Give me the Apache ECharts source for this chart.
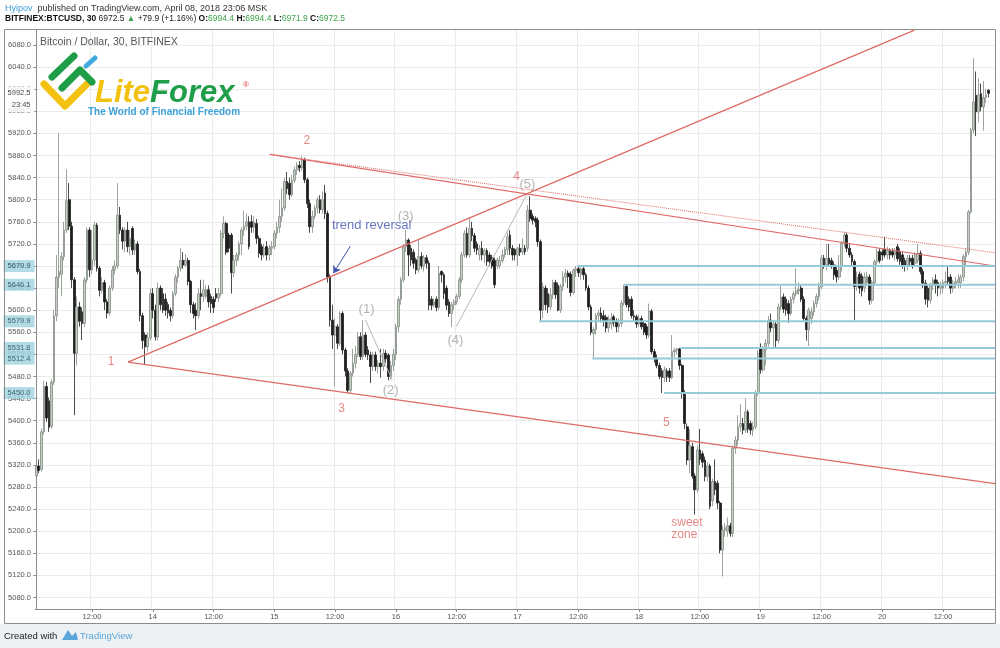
<!DOCTYPE html>
<html>
<head>
<meta charset="utf-8">
<script src="https://cdn.jsdelivr.net/npm/echarts@6/dist/echarts.min.js"></script>
<style>
html,body{margin:0;padding:0;background:#ffffff;}
#chart{width:1000px;height:648px;}
</style>
</head>
<body>
<div id="chart"></div>
<script>
// ---- OHLC data, 30-minute candles: [open, close, low, high] ----
// 13th, 01:00 .. 23:30
const day13 = [
[5300,5318,5296,5325],[5318,5310,5305,5330],[5312,5380,5308,5386],[5380,5462,5375,5472],[5462,5405,5398,5470],
[5436,5388,5380,5442],[5390,5470,5385,5475],[5470,5590,5465,5600],[5590,5660,5580,5700],[5660,5670,5640,5920],
[5665,5697,5625,5705],[5697,5745,5690,5760],[5745,5798,5740,5855],[5800,5752,5745,5830],[5752,5655,5640,5760],
[5655,5522,5410,5660],[5522,5606,5500,5625],[5606,5580,5570,5615],[5597,5576,5546,5605],[5576,5655,5570,5660],
[5655,5745,5650,5750],[5745,5673,5660,5750],[5673,5691,5665,5745],[5691,5754,5680,5760],[5754,5676,5670,5758],
[5676,5636,5625,5680],[5636,5650,5630,5660],[5650,5615,5600,5655],[5615,5595,5585,5620],[5595,5640,5590,5645],
[5640,5673,5635,5680],[5673,5680,5665,5690],[5680,5772,5675,5830],[5772,5745,5738,5787],[5745,5725,5710,5750],
[5725,5745,5705,5750],[5745,5715,5705,5760],[5715,5730,5700,5745],[5748,5709,5700,5752],[5709,5720,5700,5728],
[5720,5670,5665,5725],[5670,5590,5580,5675],[5590,5545,5530,5595],[5555,5534,5501,5560],[5534,5550,5525,5560],
[5550,5630,5545,5640]
];
const day14 = [
[5630,5600,5585,5640],[5600,5552,5545,5610],[5552,5640,5545,5650],[5640,5610,5600,5645],[5630,5600,5595,5640],
[5620,5600,5590,5630],[5610,5595,5585,5615],[5600,5590,5580,5605],[5590,5630,5585,5635],[5630,5660,5625,5665],
[5660,5676,5650,5680],[5676,5690,5670,5712],[5690,5682,5675,5705],[5682,5690,5678,5702],[5690,5652,5645,5695],
[5652,5610,5595,5655],[5610,5594,5585,5615],[5600,5590,5564,5613],[5590,5630,5585,5640],[5630,5625,5600,5655],
[5625,5637,5615,5655],[5625,5637,5620,5645],[5637,5615,5605,5645],[5625,5612,5595,5630],[5620,5605,5595,5625],
[5630,5622,5615,5640],[5622,5630,5615,5640],[5630,5739,5625,5745],[5739,5757,5730,5770],[5757,5705,5700,5760],
[5736,5712,5705,5740],[5736,5668,5630,5740],[5668,5690,5660,5700],[5690,5700,5680,5705],[5700,5720,5690,5725],
[5720,5745,5700,5750],[5745,5752,5735,5780],[5752,5760,5745,5775],[5760,5715,5710,5770],[5760,5750,5740,5772],
[5750,5760,5740,5770],[5757,5730,5720,5765],[5730,5703,5695,5735],[5715,5700,5690,5720],[5700,5712,5695,5720],
[5715,5700,5690,5725],[5700,5712,5690,5718],[5712,5715,5700,5725]
];
const day15 = [
[5715,5739,5710,5745],[5739,5750,5730,5760],[5750,5770,5740,5800],[5770,5785,5760,5820],[5785,5833,5780,5840],
[5833,5820,5810,5850],[5830,5809,5800,5840],[5809,5835,5805,5845],[5835,5854,5830,5860],[5854,5862,5845,5868],
[5862,5858,5850,5870],[5858,5872,5852,5880],[5872,5836,5830,5876],[5836,5793,5785,5840],[5793,5751,5740,5800],
[5751,5770,5740,5780],[5770,5785,5765,5790],[5785,5800,5775,5805],[5800,5782,5775,5808],[5782,5800,5775,5815],
[5812,5775,5765,5827],[5775,5660,5650,5780],[5660,5582,5570,5665],[5582,5555,5530,5610],[5555,5570,5462,5585],
[5570,5540,5530,5575],[5540,5594,5535,5598],[5594,5528,5520,5598],[5528,5490,5480,5532],[5490,5455,5450,5495],
[5455,5486,5450,5490],[5486,5504,5480,5530],[5504,5520,5495,5535],[5520,5552,5515,5560],[5552,5516,5510,5560],
[5516,5555,5510,5582],[5555,5520,5515,5560],[5528,5519,5510,5535],[5519,5498,5468,5525],[5498,5519,5490,5525],
[5519,5498,5490,5525],[5498,5504,5485,5510],[5504,5498,5478,5530],[5498,5522,5490,5530],[5522,5512,5505,5528],
[5519,5480,5473,5522],[5480,5500,5475,5508],[5500,5520,5490,5530]
];
const day16 = [
[5520,5570,5510,5575],[5570,5620,5560,5625],[5620,5655,5610,5660],[5655,5715,5650,5720],[5715,5727,5705,5745],
[5727,5700,5662,5730],[5712,5691,5680,5718],[5705,5685,5675,5710],[5691,5673,5665,5695],[5673,5697,5668,5727],
[5697,5680,5675,5705],[5680,5695,5670,5700],[5695,5685,5675,5700],[5685,5609,5600,5690],[5620,5609,5600,5625],
[5609,5615,5605,5622],[5620,5605,5598,5625],[5605,5667,5600,5680],[5670,5664,5650,5672],[5664,5630,5620,5668],
[5640,5609,5600,5645],[5615,5594,5588,5620],[5594,5610,5570,5615],[5610,5615,5600,5620],[5615,5625,5610,5630],
[5625,5655,5620,5660],[5655,5700,5650,5705],[5700,5739,5695,5745],[5739,5700,5695,5750],[5700,5748,5695,5769],
[5748,5735,5725,5760],[5735,5712,5705,5740],[5720,5709,5700,5725],[5700,5712,5690,5718],[5712,5700,5690,5725],
[5700,5708,5685,5712],[5708,5688,5680,5712],[5700,5688,5680,5705],[5695,5680,5675,5700],[5690,5646,5640,5695],
[5680,5691,5675,5695],[5680,5690,5675,5698],[5690,5700,5685,5710],[5700,5710,5695,5715],[5709,5733,5700,5740],
[5736,5712,5700,5745],[5712,5700,5690,5718],[5710,5700,5690,5712]
];
const day17 = [
[5700,5712,5680,5715],[5712,5705,5698,5720],[5705,5712,5700,5730],[5712,5706,5700,5718],[5712,5781,5706,5790],
[5781,5766,5760,5806],[5770,5763,5755,5775],[5766,5760,5750,5770],[5763,5724,5715,5768],[5724,5600,5580,5728],
[5600,5643,5585,5650],[5640,5610,5600,5645],[5630,5606,5595,5640],[5606,5628,5600,5640],[5628,5650,5620,5655],
[5650,5628,5620,5655],[5645,5600,5598,5650],[5600,5643,5595,5648],[5643,5660,5635,5670],[5660,5667,5650,5675],
[5667,5661,5640,5672],[5665,5632,5625,5670],[5632,5672,5628,5675],[5672,5675,5660,5680],[5675,5668,5660,5680],
[5665,5675,5655,5680],[5675,5664,5655,5680],[5664,5640,5635,5668],[5640,5606,5600,5645],[5606,5560,5555,5610],
[5558,5565,5512,5570],[5565,5590,5555,5595],[5590,5595,5580,5600],[5595,5585,5578,5605],[5590,5580,5570,5600],
[5587,5568,5560,5592],[5568,5583,5560,5590],[5575,5585,5565,5595],[5588,5578,5570,5592],[5580,5570,5560,5585],
[5570,5576,5560,5585],[5576,5613,5570,5618],[5613,5643,5608,5646],[5643,5610,5605,5646],[5620,5606,5598,5625],
[5620,5590,5585,5625],[5590,5588,5580,5600],[5588,5575,5568,5592]
];
const day18 = [
[5575,5585,5570,5592],[5585,5570,5565,5590],[5576,5560,5555,5580],[5570,5555,5548,5575],[5555,5598,5550,5612],
[5598,5525,5520,5602],[5525,5513,5505,5530],[5513,5500,5495,5520],[5500,5480,5475,5505],[5490,5478,5450,5495],
[5478,5492,5470,5498],[5490,5480,5470,5495],[5490,5478,5470,5495],[5478,5525,5475,5555],[5525,5528,5515,5532],
[5528,5530,5520,5532],[5530,5500,5492,5532],[5500,5450,5440,5503],[5450,5395,5385,5455],[5389,5329,5320,5395],
[5329,5355,5305,5385],[5353,5300,5295,5360],[5300,5275,5230,5305],[5275,5347,5270,5355],[5347,5330,5320,5385],
[5340,5325,5315,5345],[5329,5299,5290,5335],[5299,5318,5290,5325],[5318,5245,5240,5322],[5255,5290,5245,5295],
[5290,5275,5265,5330],[5287,5251,5240,5292],[5251,5166,5160,5255],[5166,5202,5118,5210],[5202,5206,5190,5215],
[5200,5210,5190,5225],[5210,5196,5190,5215],[5196,5350,5190,5355],[5350,5365,5340,5372],[5365,5389,5355,5410],
[5389,5395,5380,5430],[5395,5383,5375,5405],[5383,5416,5378,5440],[5416,5385,5378,5420],[5395,5383,5375,5400],
[5383,5389,5372,5398],[5389,5450,5385,5455],[5450,5522,5445,5528]
];
const day19 = [
[5531,5492,5485,5540],[5492,5528,5488,5535],[5528,5540,5500,5548],[5540,5582,5534,5590],[5582,5568,5560,5594],
[5568,5575,5534,5582],[5575,5545,5530,5580],[5545,5606,5540,5612],[5606,5624,5600,5645],[5624,5602,5595,5630],
[5620,5600,5590,5625],[5612,5594,5577,5618],[5594,5620,5590,5625],[5620,5630,5612,5635],[5630,5635,5625,5676],
[5635,5638,5628,5650],[5640,5620,5615,5645],[5620,5585,5580,5625],[5585,5565,5545,5590],[5565,5600,5535,5605],
[5585,5597,5575,5605],[5597,5612,5590,5618],[5612,5625,5605,5630],[5625,5642,5618,5650],[5642,5694,5638,5700],
[5694,5682,5675,5700],[5682,5694,5672,5720],[5694,5684,5678,5720],[5690,5682,5675,5695],[5682,5664,5655,5688],
[5672,5660,5650,5678],[5660,5679,5655,5700],[5679,5721,5670,5725],[5721,5736,5715,5742],[5736,5712,5705,5740],
[5712,5700,5695,5720],[5700,5688,5680,5705],[5688,5643,5582,5692],[5643,5660,5635,5670],[5665,5640,5630,5670],
[5662,5635,5625,5667],[5640,5660,5632,5668],[5650,5662,5645,5670],[5660,5618,5610,5665],[5618,5650,5612,5655],
[5650,5688,5645,5692],[5688,5706,5682,5712],[5706,5690,5685,5712]
];
// 20th, 00:00 .. 21:00
const day20 = [
[5705,5700,5690,5710],[5710,5700,5695,5733],[5700,5708,5692,5715],[5708,5700,5692,5712],[5706,5700,5695,5712],
[5700,5706,5690,5712],[5715,5693,5688,5720],[5705,5688,5682,5712],[5700,5682,5675,5705],[5690,5682,5670,5695],
[5680,5694,5672,5700],[5694,5688,5680,5700],[5694,5682,5675,5700],[5685,5700,5680,5705],[5690,5703,5685,5720],
[5703,5670,5665,5708],[5670,5649,5640,5675],[5649,5620,5610,5655],[5640,5618,5605,5645],[5618,5645,5612,5650],
[5645,5655,5636,5660],[5655,5645,5630,5665],[5650,5640,5625,5655],[5640,5645,5628,5652],[5640,5650,5632,5655],
[5650,5652,5640,5670],[5660,5652,5645,5680],[5660,5640,5630,5665],[5640,5648,5632,5655],[5648,5652,5640,5660],
[5650,5655,5640,5665],[5650,5660,5640,5665],[5660,5697,5652,5702],[5697,5705,5679,5712],[5705,5778,5700,5782],
[5778,5926,5775,5930],[5926,5977,5920,6056],[5989,5959,5915,6032],[5959,5990,5940,6020],[5992,5968,5960,6010],
[5968,5985,5925,6015],[5985,5990,5975,6000],[5998,5992.5,5985,6000]
];

// ---- axis ticks ----
const yTicks = [5080,5120,5160,5200,5240,5280,5320,5360,5400,5440,5480,5520,5560,5600,5640,5680,5720,5760,5800,5840,5880,5920,5960,6000,6040,6080];

// ---- annotations in data space: [candle index, price] ----
const levelPrices = [5679.9, 5646.1, 5579.9, 5531.8, 5512.4, 5450.0];
const levelStarts = [213.6, 232.0, 198.6, 254.2, 219.5, 247.9];
const lastPrice = 5992.5;
const channelUpper = [[92.2,5882],[378.5,5680]];
const channelUpperDotted = [[92.2,5882],[378.5,5704]];
const risingLine = [[36.2,5506],[346.7,6107]];
const channelLower = [[36.2,5506],[378.5,5286]];
const waveLine45 = [[165.8,5570],[193.5,5808]];
const waveLine12 = [[130.0,5582],[140.5,5474]];
const redMarks = [['1',29.5,5506],['2',106.8,5906],['3',120.5,5421],['4',189.6,5841],['5',248.7,5396]];
const greyMarks = [['(1)',130.4,5602],['(2)',139.9,5454],['(3)',145.8,5769],['(4)',165.5,5546],['(5)',193.9,5827]];
const trendText = ['trend reversal',132.4,5754];
const sweetText = ['sweet\nzone',250.5,5204];
const arrowLine = [[124,5716],[117.3,5667]];

const ohlc = [].concat(day13, day14, day15, day16, day17, day18, day19, day20);
const NCAT = 379;
const pad = n => (n < 10 ? '0' : '') + n;
const times = [];
for (let k = 0; k < NCAT; k++) {
  const m = 60 + 30 * k;
  const d = 13 + Math.floor(m / 1440);
  const mm = m % 1440;
  times.push(d + ' ' + pad(Math.floor(mm / 60)) + ':' + pad(mm % 60));
}
const FONT = "'Liberation Sans', Arial, sans-serif";
const isMajor = (idx) => idx % 24 === 22;
const RED = '#e06a66';

const chart = echarts.init(document.getElementById('chart'), null, {renderer: 'canvas'});

const lineSeries = (data, color, type, width) => ({
  type: 'line', xAxisIndex: 1, yAxisIndex: 0, data: data, symbol: 'none', silent: true,
  lineStyle: {color: color, width: width || 1, type: type || 'solid'}, z: 4, clip: true, animation: false
});
const textSeries = (items, color, size, extra) => ({
  type: 'scatter', xAxisIndex: 1, yAxisIndex: 0, silent: true, symbolSize: 1, clip: false,
  itemStyle: {color: 'rgba(0,0,0,0)'}, z: 6,
  data: items.map(t => ({name: t[0], value: [t[1], t[2]]})),
  label: Object.assign({show: true, formatter: '{b}', position: 'inside', color: color, fontSize: size, fontFamily: FONT}, extra || {})
});

const series = [
  {
    type: 'candlestick', xAxisIndex: 0, yAxisIndex: 0, data: ohlc, barWidth: 2.2,
    itemStyle: {color: '#c4ccc4', color0: '#1e1e1e', borderColor: '#838d83', borderColor0: '#1e1e1e', borderWidth: 0.8},
    z: 3
  },
  lineSeries(channelUpper, RED, 'solid', 1.2),
  lineSeries(channelUpperDotted, RED, 'dotted', 1),
  lineSeries(risingLine, RED, 'solid', 1.2),
  lineSeries(channelLower, RED, 'solid', 1.2),
  lineSeries(waveLine45, '#b8b8b8', 'solid', 1),
  lineSeries(waveLine12, '#b8b8b8', 'solid', 1)
];
levelPrices.forEach((p, k) => {
  series.push(lineSeries([[levelStarts[k], p], [NCAT - 0.5, p]], '#93cbd8', 'solid', 2));
});
series.push(textSeries(redMarks, RED, 12));
series.push(textSeries(greyMarks, '#a0a0a0', 13));
series.push(textSeries([trendText], '#4352b0', 13));
series.push(textSeries([sweetText], RED, 12, {align: 'left', position: 'right', distance: 0, lineHeight: 12}));
// price boxes on the axis
series.push({
  type: 'scatter', xAxisIndex: 1, yAxisIndex: 0, silent: true, symbolSize: 1, clip: false,
  itemStyle: {color: 'rgba(0,0,0,0)'}, z: 8,
  data: levelPrices.map(p => ({value: [-0.5, p]})),
  label: {show: true, position: 'left', distance: 0, formatter: (o) => o.value[1].toFixed(1),
    backgroundColor: '#9dd3df', color: '#1d4452', fontSize: 7.5, fontFamily: FONT,
    align: 'right', padding: [2, 4, 2, 4]}
});
series.push({
  type: 'scatter', xAxisIndex: 1, yAxisIndex: 0, silent: true, symbolSize: 1, clip: false,
  itemStyle: {color: 'rgba(0,0,0,0)'}, z: 8,
  data: [{value: [-0.5, lastPrice]}],
  label: {show: true, position: 'left', distance: 0, offset: [0, 6],
    formatter: (o) => o.value[1].toFixed(1) + '\n23:45',
    backgroundColor: '#ffffff', color: '#111', fontSize: 7.5, fontFamily: FONT, lineHeight: 12,
    align: 'right', padding: [1, 4, 1, 4]}
});
// arrow
series.push({
  type: 'line', xAxisIndex: 1, yAxisIndex: 0, data: [], silent: true,
  markLine: {silent: true, symbol: ['none', 'arrow'], symbolSize: 7, animation: false,
    lineStyle: {color: '#4352b0', width: 1, type: 'solid'}, label: {show: false},
    data: [[{coord: arrowLine[0]}, {coord: arrowLine[1]}]]}
});

chart.setOption({
  animation: false,
  backgroundColor: '#ffffff',
  grid: {left: 35, right: 5, top: 30, bottom: 39, containLabel: false},
  title: [
    {left: 5, top: 0, padding: 0, text: '{a|Hyipov} {b|published on TradingView.com, April 08, 2018 23:06 MSK}',
      textStyle: {fontWeight: 'normal', rich: {a: {color: '#3a9ad9', fontSize: 9, fontWeight: 'normal', fontFamily: FONT},
        b: {color: '#333', fontSize: 9, fontWeight: 'normal', fontFamily: FONT}}}},
    {left: 5, top: 14, padding: 0, text: '{k|BITFINEX:BTCUSD, 30}{v| 6972.5 }{g|▲}{v| +79.9 (+1.16%) }{k|O:}{g|6994.4 }{k|H:}{g|6994.4 }{k|L:}{g|6971.9 }{k|C:}{g|6972.5}',
      textStyle: {rich: {k: {color: '#111', fontSize: 8.5, fontWeight: 'bold', fontFamily: FONT},
        v: {color: '#222', fontSize: 8.5, fontWeight: 'normal', fontFamily: FONT}, g: {color: '#3fa34d', fontSize: 8.5, fontWeight: 'normal', fontFamily: FONT}}}},
    {left: 40, top: 37, padding: 0, text: 'Bitcoin / Dollar, 30, BITFINEX', textStyle: {color: '#555', fontSize: 10.5, fontWeight: 'normal', fontFamily: FONT}},
    {left: 95, top: 78, padding: 0, text: '{y|Lite}{g|Forex}',
      textStyle: {rich: {y: {color: '#f3c10f', fontSize: 31, fontWeight: 'bold', fontStyle: 'italic', fontFamily: FONT},
        g: {color: '#1e9e48', fontSize: 31, fontWeight: 'bold', fontStyle: 'italic', fontFamily: FONT}}}},
    {left: 243, top: 81, padding: 0, text: '®', textStyle: {color: '#e2403c', fontSize: 8, fontWeight: 'normal', fontFamily: FONT}},
    {left: 88, top: 107, padding: 0, text: 'The World of Financial Freedom', textStyle: {color: '#3da0d6', fontSize: 10, fontWeight: 'bold', fontFamily: FONT}},
    {left: 4, top: 631, padding: 0, text: 'Created with', textStyle: {color: '#222', fontSize: 9.5, fontWeight: 'normal', fontFamily: FONT}},
    {left: 80, top: 631, padding: 0, text: 'TradingView', textStyle: {color: '#5aa6da', fontSize: 9.5, fontWeight: 'normal', fontFamily: FONT}}
  ],
  graphic: [
    {type: 'rect', z: -10, shape: {x: 0, y: 624, width: 1000, height: 24}, style: {fill: '#eef1f4'}},
    {type: 'rect', z: 100, shape: {x: 4.5, y: 29.5, width: 991, height: 594}, style: {fill: 'none', stroke: '#8c8c8c', lineWidth: 1}},
    {type: 'polyline', z: 50, shape: {points: [[44, 84], [65, 106], [87, 84]]}, style: {stroke: '#f3c10f', lineWidth: 7, lineCap: 'round', lineJoin: 'round', fill: null}},
    {type: 'polyline', z: 50, shape: {points: [[52, 77], [74, 56]]}, style: {stroke: '#1e9e48', lineWidth: 7, lineCap: 'round', fill: null}},
    {type: 'polyline', z: 50, shape: {points: [[62, 88], [80, 70], [92, 82]]}, style: {stroke: '#1e9e48', lineWidth: 7, lineCap: 'round', lineJoin: 'round', fill: null}},
    {type: 'polyline', z: 50, shape: {points: [[86, 66], [95, 58]]}, style: {stroke: '#3fa9e0', lineWidth: 5, lineCap: 'round', fill: null}},
    {type: 'polygon', z: 50, shape: {points: [[62, 640], [68, 630], [72, 636], [76, 632], [78, 640]]}, style: {fill: '#5aa6da'}}
  ],
  xAxis: [
    {
      type: 'category', data: times, boundaryGap: true, gridIndex: 0,
      axisLine: {show: true, lineStyle: {color: '#8c8c8c'}},
      axisTick: {show: true, interval: isMajor, alignWithLabel: true, length: 3, lineStyle: {color: '#8c8c8c'}},
      axisLabel: {interval: isMajor, color: '#555', fontSize: 7.5, fontFamily: FONT, margin: 4,
        formatter: (v) => v.slice(-5) === '00:00' ? v.split(' ')[0] : v.slice(-5)},
      splitLine: {show: true, interval: isMajor, lineStyle: {color: '#ebebeb', width: 1}}
    },
    {type: 'value', min: -0.5, max: NCAT - 0.5, show: false, gridIndex: 0}
  ],
  yAxis: [{
    type: 'value', min: 5059.2, max: 6107.15, position: 'left',
    axisLine: {show: true, lineStyle: {color: '#8c8c8c'}},
    axisTick: {show: true, length: 3, customValues: yTicks, lineStyle: {color: '#8c8c8c'}},
    axisLabel: {customValues: yTicks, formatter: (v) => Number(v).toFixed(1), color: '#555', fontSize: 7.5, fontFamily: FONT, margin: 4},
    splitLine: {show: true, lineStyle: {color: '#ebebeb', width: 1}}
  }],
  series: series
});
</script>
</body>
</html>
